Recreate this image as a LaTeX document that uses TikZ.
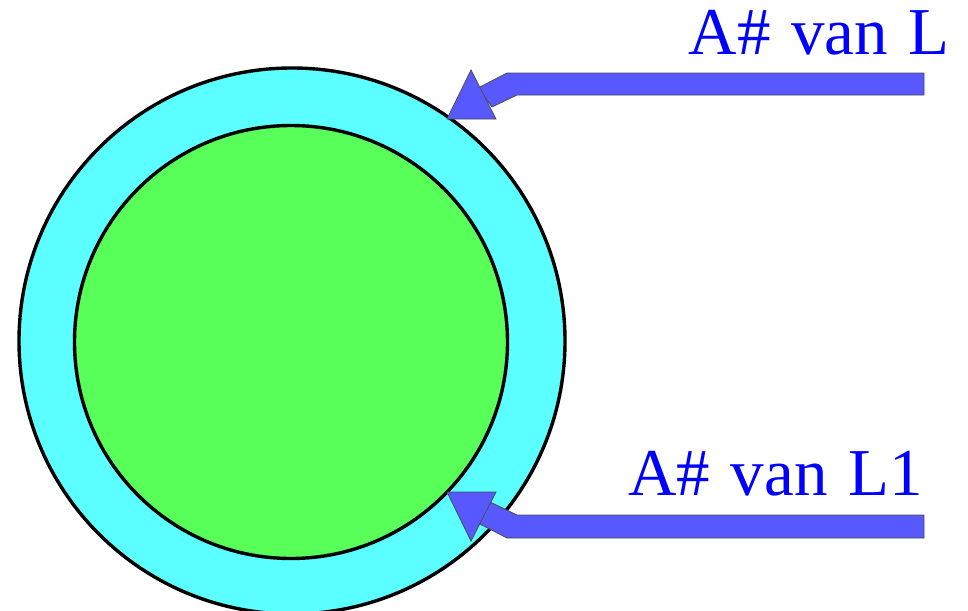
\documentclass[tikz,border=0pt]{standalone}
\usepackage{fontspec}
\setmainfont{Liberation Serif}
\definecolor{ringcyan}{HTML}{5BFFFF}
\definecolor{coregreen}{HTML}{58FF58}
\definecolor{arrowblue}{HTML}{5858FF}
\definecolor{textblue}{HTML}{0000FF}
\newcommand{\wsp}{\hspace{0.31em}}
\begin{document}
\begin{tikzpicture}[x=1pt,y=-1pt,
  ring/.style={circle,draw=black,line width=3.4pt,inner sep=0pt},
  shaft/.style={fill=arrowblue,draw=black!70,line width=0.8pt,line join=miter},
  tip/.style={fill=arrowblue,draw=black!70,line width=0.8pt},
  lbl/.style={text=textblue,font=\fontsize{67}{72}\selectfont,inner sep=0pt}]
\useasboundingbox (0,0) rectangle (968,610);
\node[ring,fill=ringcyan,minimum size=546pt] (outer) at (292,341) {};
\node[ring,fill=coregreen,minimum size=433pt] (inner) at (291,342) {};
% top arrow
\coordinate (t1) at (924,73);
\coordinate (t2) at (507,73);
\coordinate (t3) at (478,88);
\coordinate (t4) at (492,107);
\coordinate (t5) at (517,95);
\coordinate (t6) at (924,95);
\draw[shaft] (t1) -- (t2) -- (t3) -- (t4) -- (t5) -- (t6) -- cycle;
\coordinate (ta) at (471,70);
\coordinate (tb) at (447,119);
\coordinate (tc) at (496,119);
\draw[tip] (ta) -- (tb) -- (tc) -- cycle;
% bottom arrow
\coordinate (b1) at (924,515);
\coordinate (b2) at (517,515);
\coordinate (b3) at (490,502);
\coordinate (b4) at (478,523);
\coordinate (b5) at (507,538);
\coordinate (b6) at (924,538);
\draw[shaft] (b1) -- (b2) -- (b3) -- (b4) -- (b5) -- (b6) -- cycle;
\coordinate (ba) at (447,492);
\coordinate (bb) at (496,492);
\coordinate (bc) at (471,541);
\draw[tip] (ba) -- (bb) -- (bc) -- cycle;
% labels
\node[lbl,anchor=base east] (labL) at (950,55) {A\#\wsp van\wsp L};
\node[lbl,anchor=base east] (labL1) at (923,495) {A\#\wsp van\wsp L1};
\end{tikzpicture}
\end{document}
